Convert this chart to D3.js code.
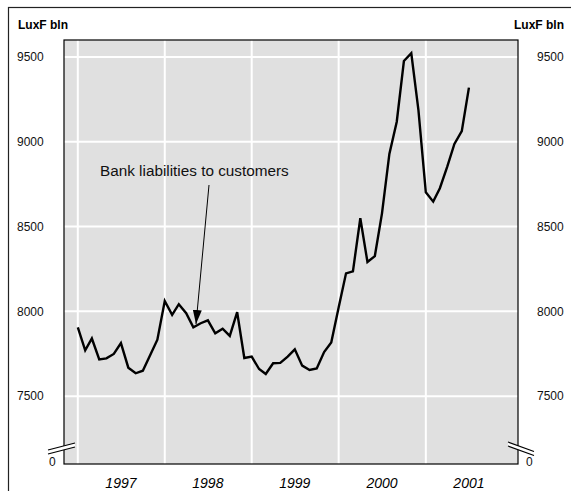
<!DOCTYPE html>
<html>
<head>
<meta charset="utf-8">
<script src="https://cdn.jsdelivr.net/npm/d3@7"></script>
<style>
    body { margin: 0; background: #fff; }
    svg { display: block; font-family: Arial, "Liberation Sans", sans-serif; }
</style>
</head>
<body>
<div class="container"><svg width="571" height="491"></svg></div>
<script>
/*
 * Chart data: monthly bank liabilities to customers, LuxF bln
 * first value is January 1997, last is July 2001
 */
var firstMonth = new Date(1997, 0, 1);
var liabilities = [
    7905, 7770, 7840, 7717, 7723, 7749, 7813, 7668, 7635, 7650, 7743, 7833,
    8061, 7979, 8042, 7989, 7906, 7930, 7947, 7871, 7898, 7855, 7995, 7725,
    7733, 7660, 7631, 7694, 7696, 7733, 7776, 7680, 7654, 7663, 7760, 7816,
    8023, 8224, 8236, 8549, 8291, 8326, 8578, 8928, 9118, 9476, 9522, 9187,
    8702, 8647, 8726, 8853, 8987, 9063, 9319
];
var years = [1997, 1998, 1999, 2000, 2001];
var yTicks = [7500, 8000, 8500, 9000, 9500];
var unitLabel = 'LuxF bln';
var seriesLabel = 'Bank liabilities to customers';

var svg = d3.select('.container').select('svg');

// plot box
var plot = {left: 64, top: 40, right: 518, bottom: 464};

var x = d3.scaleTime()
    .domain([new Date(1996, 10, 4), new Date(2002, 0, 23)])
    .range([plot.left, plot.right]);

// axis is broken below 7500, bottom edge stands for 0
var y = d3.scaleLinear()
    .domain([7100, 9600])
    .range([plot.bottom, plot.top]);

var data = liabilities.map(function(v, i) {
    return {date: d3.timeMonth.offset(firstMonth, i), value: v};
});

/*
 * Outer frame (cut off on the right and bottom)
 */
svg.append('rect')
    .attr('x', 8.5).attr('y', 7.5)
    .attr('width', 600).attr('height', 600)
    .attr('fill', 'none')
    .attr('stroke', '#222')
    .attr('stroke-width', 1.2);

// plot background
svg.append('rect')
    .attr('x', plot.left).attr('y', plot.top)
    .attr('width', plot.right - plot.left)
    .attr('height', plot.bottom - plot.top)
    .attr('fill', '#e0e0e0');

// white grid
var grid = svg.append('g').attr('stroke', '#fff').attr('stroke-width', 2);
grid.selectAll('.vgrid')
    .data(years)
    .enter().append('line')
    .attr('x1', function(d) { return x(new Date(d, 0, 1)); })
    .attr('x2', function(d) { return x(new Date(d, 0, 1)); })
    .attr('y1', plot.top).attr('y2', plot.bottom);
grid.selectAll('.hgrid')
    .data(yTicks)
    .enter().append('line')
    .attr('x1', plot.left).attr('x2', plot.right)
    .attr('y1', function(d) { return y(d); })
    .attr('y2', function(d) { return y(d); });

svg.append('rect')
    .attr('x', plot.left).attr('y', plot.top)
    .attr('width', plot.right - plot.left)
    .attr('height', plot.bottom - plot.top)
    .attr('fill', 'none')
    .attr('stroke', '#000')
    .attr('stroke-width', 1.2);

/*
 * Axis labels, both sides
 */
var labels = svg.append('g').attr('font-size', 12).attr('fill', '#111');
labels.selectAll('.yl')
    .data(yTicks)
    .enter().append('text')
    .attr('x', 17)
    .attr('y', function(d) { return y(d); })
    .attr('dy', '0.35em')
    .text(function(d) { return d; });
labels.selectAll('.yr')
    .data(yTicks)
    .enter().append('text')
    .attr('x', 537)
    .attr('y', function(d) { return y(d); })
    .attr('dy', '0.35em')
    .text(function(d) { return d; });
labels.append('text').attr('x', 49).attr('y', 462).attr('dy', '0.35em').text('0');
labels.append('text').attr('x', 526).attr('y', 462).attr('dy', '0.35em').text('0');

svg.append('g')
    .attr('font-size', 14)
    .attr('font-style', 'italic')
    .attr('text-anchor', 'middle')
    .selectAll('text')
    .data(years)
    .enter().append('text')
    .attr('x', function(d) { return x(new Date(d, 6, 1)); })
    .attr('y', 488)
    .text(function(d) { return d; });

svg.append('text')
    .attr('x', 18).attr('y', 29)
    .attr('font-size', 12).attr('font-weight', 'bold')
    .text(unitLabel);
svg.append('text')
    .attr('x', 564).attr('y', 29)
    .attr('text-anchor', 'end')
    .attr('font-size', 12).attr('font-weight', 'bold')
    .text(unitLabel);

/*
 * Axis break marks
 */
function axisBreak(x1, y1, x2, y2) {
    var b = svg.append('g');
    b.append('polygon')
        .attr('points', [[x1, y1], [x2, y2], [x2, y2 + 4], [x1, y1 + 4]].join(' '))
        .attr('fill', '#fff');
    b.append('line').attr('x1', x1).attr('y1', y1).attr('x2', x2).attr('y2', y2)
        .attr('stroke', '#000').attr('stroke-width', 1.2);
    b.append('line').attr('x1', x1).attr('y1', y1 + 4).attr('x2', x2).attr('y2', y2 + 4)
        .attr('stroke', '#000').attr('stroke-width', 1.2);
}
axisBreak(48, 450, 75, 443);
axisBreak(508, 442, 534, 451.5);

/*
 * Series line
 */
var line = d3.line()
    .x(function(d) { return x(d.date); })
    .y(function(d) { return y(d.value); });

svg.append('path')
    .datum(data)
    .attr('d', line)
    .attr('fill', 'none')
    .attr('stroke', '#000')
    .attr('stroke-width', 2.4)
    .attr('stroke-linejoin', 'miter');

// annotation with arrow
svg.append('defs').append('marker')
    .attr('id', 'arrow')
    .attr('viewBox', '0 0 14 9')
    .attr('refX', 14).attr('refY', 4.5)
    .attr('markerWidth', 14).attr('markerHeight', 9)
    .attr('markerUnits', 'userSpaceOnUse')
    .attr('orient', 'auto')
    .append('path')
    .attr('d', 'M0,0L14,4.5L0,9Z')
    .attr('fill', '#000');

svg.append('line')
    .attr('x1', 209).attr('y1', 185)
    .attr('x2', 196).attr('y2', 324)
    .attr('stroke', '#000')
    .attr('stroke-width', 1)
    .attr('marker-end', 'url(#arrow)');

svg.append('text')
    .attr('x', 100).attr('y', 176)
    .attr('font-size', 15.3)
    .attr('fill', '#111')
    .text(seriesLabel);
</script>
</body>
</html>
